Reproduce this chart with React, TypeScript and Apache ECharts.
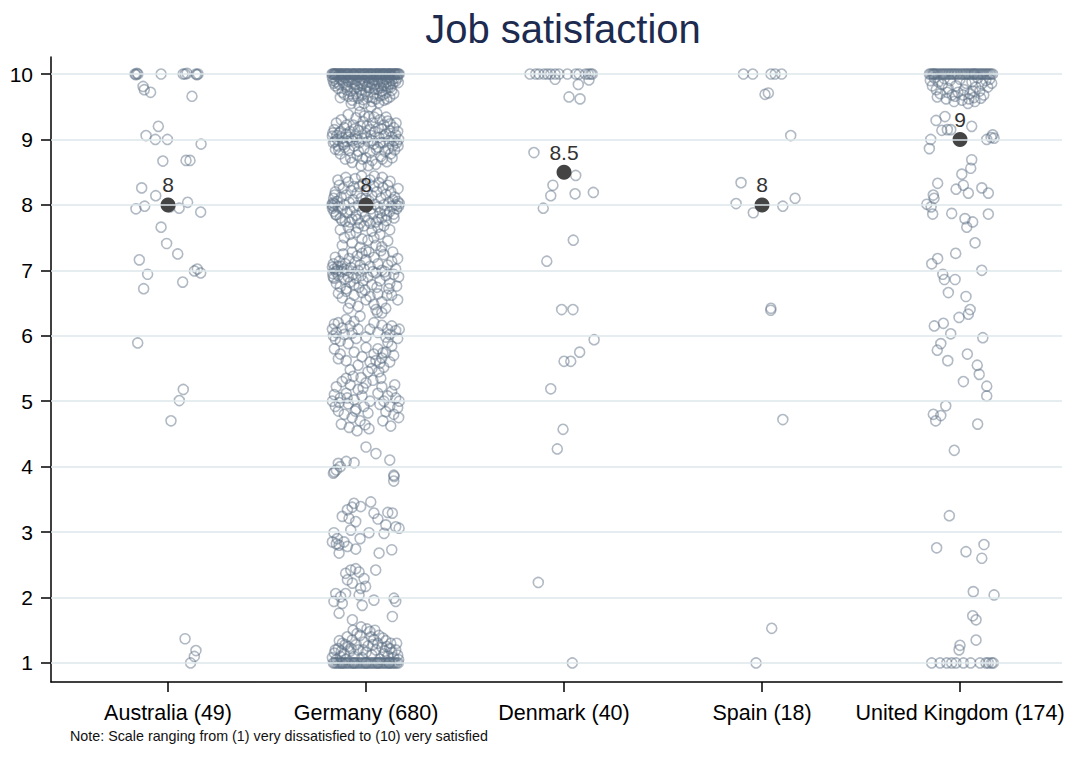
import React, { useEffect, useRef } from "react";
import * as echarts from "echarts";

const categories = ["Australia", "Germany", "Denmark", "Spain", "United Kingdom"];
const counts = [49, 680, 40, 18, 174];
const medians = [8, 8, 8.5, 8, 9];
const yTicks = [1, 2, 3, 4, 5, 6, 7, 8, 9, 10];
const xTicks = [1, 2, 3, 4, 5];
const titleText = "Job satisfaction";
const noteText = "Note: Scale ranging from (1) very dissatisfied to (10) very satisfied";

// points as [horizontal jitter offset from the category, plotted value]
const australiaPts = [
  [-0.167, 10], [-0.162, 9.99], [-0.152, 10], [-0.157, 10.01], [-0.035, 10], [0.076, 10], [0.086, 10], [0.096, 10.01], [0.141, 10], [0.146, 9.99], [0.152, 10],
  [-0.126, 9.81], [-0.12, 9.76], [-0.088, 9.72], [0.121, 9.66],
  [-0.049, 9.2], [-0.111, 9.06], [-0.064, 9.0], [-0.003, 9.0], [0.167, 8.93],
  [-0.026, 8.67], [0.091, 8.68], [0.111, 8.68],
  [-0.133, 8.26], [-0.062, 8.14], [-0.162, 7.94], [-0.118, 7.98], [0.056, 7.95], [0.099, 8.04], [0.165, 7.89], [0.01, 7.97],
  [-0.035, 7.66], [-0.007, 7.41], [0.049, 7.25], [-0.145, 7.16], [-0.103, 6.94], [-0.123, 6.72], [0.074, 6.82], [0.133, 6.99], [0.148, 7.02], [0.165, 6.96],
  [-0.153, 5.89],
  [0.077, 5.18], [0.057, 5.01], [0.015, 4.7],
  [0.086, 1.37], [0.141, 1.19], [0.133, 1.1], [0.114, 1.0],
];

const germanyRow10Dx = [
  -0.172, -0.168, -0.163, -0.16, -0.154, -0.15, -0.147, -0.141, -0.136, -0.133, -0.128, -0.12, -0.117, -0.11, -0.106, -0.1,
  -0.093, -0.09, -0.084, -0.077, -0.071, -0.066, -0.06, -0.055, -0.05, -0.043, -0.038, -0.03, -0.027, -0.02, -0.013, -0.01,
  -0.004, 0.003, 0.008, 0.012, 0.02, 0.026, 0.03, 0.036, 0.041, 0.048, 0.052, 0.057, 0.062, 0.068, 0.071, 0.077, 0.082,
  0.088, 0.092, 0.097, 0.101, 0.106, 0.112, 0.118, 0.121, 0.126, 0.131, 0.137, 0.14, 0.147, 0.151, 0.155, 0.16, 0.164,
  0.168, -0.158, -0.124, -0.096, -0.063, -0.034, -0.006, 0.023, 0.054, 0.085, 0.115, 0.145,
];

const germanyTopBand = [
  [-0.17, 9.95], [-0.166, 9.9], [-0.162, 9.86], [-0.158, 9.93], [-0.15, 9.88], [-0.14, 9.96], [-0.135, 9.84], [-0.125, 9.91],
  [-0.115, 9.87], [-0.105, 9.94], [-0.098, 9.83], [-0.09, 9.89], [-0.08, 9.95], [-0.072, 9.86], [-0.065, 9.92], [-0.055, 9.84],
  [-0.048, 9.9], [-0.04, 9.96], [-0.032, 9.87], [-0.025, 9.93], [-0.015, 9.85], [-0.008, 9.9], [0.0, 9.95], [0.008, 9.83],
  [0.015, 9.88], [0.022, 9.94], [0.03, 9.86], [0.038, 9.91], [0.045, 9.84], [0.052, 9.96], [0.06, 9.89], [0.068, 9.85],
  [0.075, 9.93], [0.083, 9.87], [0.09, 9.83], [0.098, 9.92], [0.105, 9.88], [0.112, 9.95], [0.12, 9.85], [0.128, 9.9],
  [0.135, 9.86], [0.142, 9.93], [0.15, 9.89], [0.158, 9.94], [0.163, 9.87], [-0.155, 9.82], [-0.12, 9.97], [-0.085, 9.92],
  [-0.06, 9.97], [-0.02, 9.82], [0.012, 9.97], [0.04, 9.82], [0.07, 9.97], [0.1, 9.82], [0.13, 9.97],
];

const germanyUpper = [
  [-0.14, 9.78], [-0.12, 9.72], [-0.1, 9.8], [-0.09, 9.66], [-0.08, 9.74], [-0.07, 9.6], [-0.06, 9.78], [-0.05, 9.7],
  [-0.04, 9.63], [-0.03, 9.76], [-0.02, 9.68], [-0.01, 9.55], [0.0, 9.73], [0.01, 9.65], [0.02, 9.79], [0.03, 9.58],
  [0.04, 9.7], [0.05, 9.62], [0.06, 9.77], [0.07, 9.67], [0.08, 9.74], [0.09, 9.6], [0.1, 9.71], [0.11, 9.79], [0.12, 9.65],
  [0.13, 9.75], [-0.13, 9.64], [-0.11, 9.69], [-0.095, 9.76], [-0.075, 9.55], [-0.045, 9.8], [-0.035, 9.52], [-0.015, 9.61],
  [0.005, 9.8], [0.025, 9.5], [0.045, 9.77], [0.065, 9.56], [0.085, 9.68], [0.105, 9.62], [0.125, 9.8], [0.14, 9.7],
  [-0.065, 9.66], [0.035, 9.64], [-0.025, 9.71], [0.075, 9.79],
];

const germanyNine = [
  [-0.17, 9.05], [-0.165, 8.95], [-0.16, 9.15], [-0.155, 8.85], [-0.15, 9.25], [-0.145, 9.0], [-0.14, 8.9], [-0.135, 9.1],
  [-0.13, 8.78], [-0.125, 9.3], [-0.12, 9.02], [-0.115, 8.92], [-0.11, 9.18], [-0.105, 8.7], [-0.1, 9.08], [-0.095, 8.97],
  [-0.09, 9.38], [-0.085, 8.83], [-0.08, 9.12], [-0.075, 9.0], [-0.07, 8.65], [-0.065, 9.22], [-0.06, 8.9], [-0.055, 9.05],
  [-0.05, 9.33], [-0.045, 8.76], [-0.04, 9.14], [-0.035, 8.95], [-0.03, 9.42], [-0.025, 8.6], [-0.02, 9.02], [-0.015, 9.27],
  [-0.01, 8.86], [-0.005, 9.1], [0.0, 8.72], [0.005, 9.2], [0.01, 8.97], [0.015, 9.35], [0.02, 8.8], [0.025, 9.06],
  [0.03, 8.68], [0.035, 9.25], [0.04, 8.93], [0.045, 9.12], [0.05, 8.62], [0.055, 9.4], [0.06, 8.88], [0.065, 9.03],
  [0.07, 9.3], [0.075, 8.74], [0.08, 9.16], [0.085, 8.95], [0.09, 9.22], [0.095, 8.82], [0.1, 9.08], [0.105, 8.66],
  [0.11, 9.28], [0.115, 8.98], [0.12, 9.13], [0.125, 8.78], [0.13, 9.04], [0.135, 8.9], [0.14, 9.18], [0.145, 8.84],
  [0.15, 9.07], [0.155, 8.95], [0.16, 9.12], [0.165, 9.0], [-0.168, 9.1], [-0.158, 8.97], [-0.148, 9.06], [-0.138, 8.84],
  [-0.128, 9.12], [-0.118, 8.96], [-0.108, 8.88], [-0.098, 9.22], [-0.088, 9.03], [-0.078, 8.72], [-0.068, 8.98],
  [-0.058, 9.16], [-0.048, 9.0], [-0.038, 8.82], [-0.028, 9.2], [-0.018, 8.7], [-0.008, 9.36], [0.002, 9.03], [0.012, 8.6],
  [0.022, 9.15], [0.032, 8.98], [0.042, 9.34], [0.052, 8.85], [0.062, 9.18], [0.072, 8.95], [0.082, 8.7], [0.092, 9.05],
  [0.102, 9.34], [0.112, 8.86], [0.122, 9.24], [0.132, 8.72], [0.142, 8.98], [0.152, 9.25], [0.162, 8.9],
];

const germanyEight = [
  [-0.172, 8.0], [-0.17, 7.95], [-0.168, 8.03], [-0.166, 7.98], [-0.164, 8.1], [-0.162, 7.9], [-0.16, 8.02], [-0.155, 8.2],
  [-0.15, 7.85], [-0.145, 8.05], [-0.14, 7.97], [-0.135, 8.3], [-0.13, 7.8], [-0.125, 8.12], [-0.12, 7.93], [-0.115, 8.25],
  [-0.11, 8.0], [-0.105, 7.75], [-0.1, 8.15], [-0.095, 7.88], [-0.09, 8.35], [-0.085, 8.04], [-0.08, 7.92], [-0.075, 8.22],
  [-0.07, 7.78], [-0.065, 8.08], [-0.06, 7.96], [-0.055, 8.4], [-0.05, 7.84], [-0.045, 8.18], [-0.04, 7.99], [-0.035, 8.28],
  [-0.03, 7.72], [-0.025, 8.1], [-0.02, 7.9], [-0.015, 8.32], [-0.01, 8.02], [-0.005, 7.82], [0.005, 8.22], [0.01, 7.76],
  [0.015, 8.06], [0.02, 8.38], [0.025, 7.94], [0.03, 8.14], [0.035, 7.86], [0.04, 8.28], [0.045, 8.01], [0.05, 7.74],
  [0.055, 8.2], [0.06, 7.97], [0.065, 8.34], [0.07, 7.88], [0.075, 8.1], [0.08, 7.8], [0.085, 8.26], [0.09, 8.0],
  [0.095, 7.92], [0.1, 8.16], [0.105, 7.84], [0.11, 8.3], [0.115, 8.04], [0.12, 7.9], [0.125, 8.2], [0.13, 7.98],
  [0.135, 8.08], [0.14, 7.86], [0.145, 8.12], [0.15, 8.0], [0.155, 7.94], [0.16, 8.05], [0.165, 7.98], [0.168, 8.02],
  [-0.158, 8.15], [-0.152, 7.85], [-0.142, 8.38], [-0.122, 7.76], [-0.102, 8.42], [-0.082, 7.74], [-0.062, 8.28],
  [-0.042, 7.78], [-0.022, 8.44], [0.0, 8.1], [0.022, 7.72], [0.042, 8.44], [0.062, 7.78], [0.082, 8.42], [0.102, 7.76],
  [0.122, 8.36], [0.142, 7.8], [0.162, 8.25],
];

const germanySeven = [
  [-0.13, 7.62], [-0.11, 7.5], [-0.09, 7.66], [-0.07, 7.42], [-0.05, 7.58], [-0.03, 7.35], [-0.01, 7.68], [0.01, 7.46],
  [0.03, 7.6], [0.05, 7.38], [0.07, 7.55], [0.09, 7.68], [0.11, 7.45], [-0.12, 7.38], [-0.08, 7.55], [-0.04, 7.65],
  [0.0, 7.3], [0.04, 7.5], [0.08, 7.36], [0.12, 7.62], [-0.02, 7.48], [0.06, 7.66],
  [-0.17, 7.05], [-0.168, 6.95], [-0.165, 7.1], [-0.162, 6.88], [-0.16, 7.02], [-0.155, 7.2], [-0.15, 6.8], [-0.145, 7.0],
  [-0.14, 6.92], [-0.135, 7.14], [-0.13, 6.75], [-0.125, 7.06], [-0.12, 6.98], [-0.115, 7.25], [-0.11, 6.86], [-0.105, 7.1],
  [-0.1, 6.72], [-0.095, 7.0], [-0.09, 6.9], [-0.085, 7.18], [-0.08, 6.82], [-0.075, 7.04], [-0.07, 7.28], [-0.065, 6.94],
  [-0.06, 6.78], [-0.055, 7.12], [-0.05, 6.88], [-0.045, 7.22], [-0.04, 7.0], [-0.035, 6.74], [-0.03, 7.08], [-0.025, 6.92],
  [-0.02, 7.26], [-0.015, 6.84], [-0.01, 7.02], [-0.005, 6.7], [0.0, 7.16], [0.01, 6.9], [0.02, 7.06], [0.03, 6.78],
  [0.04, 7.2], [0.05, 6.96], [0.06, 7.1], [0.07, 6.84], [0.08, 7.0], [0.09, 7.24], [0.1, 6.92], [0.11, 7.08], [0.12, 6.8],
  [0.13, 7.14], [0.14, 6.94], [0.15, 7.02], [0.16, 7.18], [0.165, 6.9], [0.155, 6.76], [0.135, 7.28], [0.115, 6.72],
  [0.095, 6.98], [0.075, 7.3], [0.055, 6.74], [0.035, 6.98], [0.015, 7.28], [-0.112, 7.02], [-0.142, 7.06],
  [-0.152, 6.98], [-0.166, 6.9],
];

const germanySix = [
  [-0.14, 6.65], [-0.12, 6.58], [-0.1, 6.68], [-0.08, 6.5], [-0.06, 6.62], [-0.04, 6.45], [-0.02, 6.66], [0.0, 6.55],
  [0.02, 6.6], [0.04, 6.48], [0.06, 6.64], [0.08, 6.52], [0.1, 6.42], [0.13, 6.62], [0.16, 6.55], [-0.09, 6.42],
  [0.05, 6.4], [0.057, 6.36], [0.08, 6.35], [0.106, 6.62],
  [-0.17, 6.1], [-0.165, 6.0], [-0.16, 6.18], [-0.155, 5.95], [-0.15, 6.05], [-0.14, 6.2], [-0.13, 5.92], [-0.12, 6.12],
  [-0.11, 6.02], [-0.1, 6.25], [-0.09, 5.88], [-0.08, 6.15], [-0.07, 6.04], [-0.06, 6.22], [-0.05, 5.96], [-0.04, 6.1],
  [-0.03, 6.3], [0.0, 5.98], [0.02, 6.1], [0.04, 6.2], [0.06, 6.05], [0.08, 6.16], [0.1, 5.98], [0.11, 6.1], [0.12, 6.02],
  [0.13, 6.15], [0.15, 6.08], [0.16, 5.96], [0.168, 6.1], [-0.16, 5.8], [-0.13, 5.72], [-0.1, 5.62], [-0.06, 5.75],
  [-0.04, 5.55], [-0.02, 5.68], [0.0, 5.82], [0.02, 5.6], [0.03, 5.5], [0.04, 5.72], [0.05, 5.62], [0.06, 5.8],
  [0.07, 5.58], [0.08, 5.66], [0.09, 5.52], [0.1, 5.75], [0.12, 5.6], [0.13, 5.84], [-0.14, 5.65], [-0.08, 5.48],
  [0.01, 5.45], [0.065, 5.45], [0.085, 5.74], [0.11, 5.9], [0.14, 5.7],
];

const germanyFive = [
  [-0.17, 5.0], [-0.16, 5.1], [-0.155, 4.92], [-0.15, 5.22], [-0.14, 4.85], [-0.13, 5.05], [-0.12, 5.3], [-0.11, 4.8],
  [-0.1, 5.12], [-0.09, 4.96], [-0.08, 5.25], [-0.07, 4.75], [-0.06, 5.02], [-0.05, 4.88], [-0.04, 5.18], [-0.03, 4.7],
  [-0.02, 5.08], [-0.01, 4.92], [0.0, 5.28], [0.01, 4.82], [0.02, 5.0], [-0.125, 4.65], [-0.085, 4.6], [-0.045, 4.55],
  [-0.005, 4.64], [0.015, 4.58], [0.06, 5.12], [0.07, 4.95], [0.08, 5.22], [0.09, 5.0], [0.1, 4.84], [0.11, 5.08],
  [0.12, 4.92], [0.13, 5.15], [0.14, 4.8], [0.15, 5.05], [0.16, 4.9], [0.168, 5.0], [0.085, 4.7], [0.125, 4.62],
  [0.165, 4.75], [-0.1, 5.35], [-0.065, 5.38], [-0.025, 5.36], [0.035, 5.32], [0.075, 5.35], [-0.135, 4.98],
  [-0.095, 5.05], [-0.055, 4.85], [-0.015, 5.2], [0.145, 5.25],
];

const germanyFour = [
  [0.0, 4.3], [0.05, 4.2], [0.12, 4.1], [-0.16, 3.92], [-0.14, 4.05], [-0.1, 4.08], [-0.06, 4.06], [0.14, 3.87],
  [-0.15, 3.95], [-0.165, 3.9], [0.142, 3.85], [0.14, 3.78], [-0.13, 4.0],
];

const germanyThree = [
  [-0.061, 3.44], [0.024, 3.46], [-0.094, 3.34], [-0.027, 3.39], [0.04, 3.29], [0.133, 3.29], [-0.12, 3.24], [-0.086, 3.21],
  [-0.052, 3.16], [0.1, 3.11], [0.15, 3.08], [0.167, 3.06], [-0.077, 3.03], [0.015, 2.99], [-0.162, 2.99], [0.091, 2.98],
  [-0.145, 2.9], [-0.17, 2.85], [-0.136, 2.8], [-0.111, 2.85], [-0.094, 2.78], [-0.136, 2.68], [-0.052, 2.74], [0.066, 2.68],
  [0.13, 2.73], [-0.15, 2.82], [0.06, 3.2], [-0.03, 2.9], [0.11, 3.3], [-0.07, 3.38],
];

const germanyTwo = [
  [-0.103, 2.37], [-0.077, 2.42], [-0.052, 2.44], [-0.035, 2.39], [-0.01, 2.29], [0.049, 2.42], [-0.094, 2.27], [-0.069, 2.22],
  [-0.027, 2.14], [-0.002, 2.17], [-0.153, 2.06], [-0.128, 2.01], [-0.12, 1.91], [-0.035, 2.04], [0.04, 1.96], [0.141, 1.99],
  [0.15, 1.94], [-0.136, 1.76], [-0.069, 1.66], [-0.019, 1.88], [0.133, 1.71], [-0.162, 1.94], [-0.103, 2.06],
];

const germanyOne = [
  [-0.17, 1.08], [-0.16, 1.15], [-0.15, 1.05], [-0.14, 1.22], [-0.13, 1.1], [-0.12, 1.3], [-0.11, 1.14], [-0.1, 1.06],
  [-0.09, 1.25], [-0.08, 1.18], [-0.07, 1.35], [-0.06, 1.1], [-0.05, 1.28], [-0.04, 1.2], [-0.03, 1.42], [-0.02, 1.08],
  [-0.01, 1.32], [0.0, 1.16], [0.01, 1.26], [0.02, 1.48], [0.03, 1.12], [0.04, 1.36], [0.05, 1.2], [0.06, 1.3], [0.07, 1.06],
  [0.08, 1.24], [0.09, 1.14], [0.1, 1.34], [0.11, 1.1], [0.12, 1.22], [0.13, 1.16], [0.14, 1.08], [0.15, 1.2], [0.16, 1.12],
  [0.165, 1.05], [-0.155, 1.2], [-0.125, 1.18], [-0.095, 1.4], [-0.065, 1.5], [-0.045, 1.45], [-0.025, 1.55], [0.005, 1.52],
  [0.025, 1.4], [0.045, 1.5], [0.065, 1.42], [0.085, 1.38], [0.105, 1.25], [0.125, 1.3], [-0.135, 1.34], [-0.075, 1.22],
  [-0.015, 1.2], [0.035, 1.28], [0.095, 1.18], [-0.105, 1.28], [0.155, 1.3],
];

const germanyRow1Dx = [
  -0.165, -0.158, -0.149, -0.141, -0.133, -0.126, -0.117, -0.108, -0.1, -0.091, -0.083, -0.072, -0.066, -0.057, -0.048,
  -0.04, -0.031, -0.022, -0.013, -0.005, 0.004, 0.012, 0.021, 0.029, 0.037, 0.046, 0.055, 0.063, 0.071, 0.079, 0.088,
  0.096, 0.104, 0.113, 0.121, 0.13, 0.138, 0.146, 0.155, 0.163, -0.121, -0.06, 0.0, 0.059, 0.117,
];

const denmarkPts = [
  [-0.172, 10], [-0.143, 10], [-0.126, 10], [-0.101, 10], [-0.084, 10], [-0.067, 10], [-0.045, 10], [-0.025, 10],
  [0.017, 10], [0.059, 10], [0.076, 10], [0.109, 10], [0.123, 10], [0.135, 10], [0.143, 10],
  [-0.045, 9.92], [0.072, 9.84], [0.126, 9.91], [0.025, 9.65], [0.081, 9.62],
  [-0.152, 8.8], [0.059, 8.45], [-0.056, 8.3], [-0.067, 8.14], [0.056, 8.17], [0.148, 8.19], [-0.105, 7.95],
  [0.047, 7.46], [-0.087, 7.14],
  [-0.012, 6.4], [0.045, 6.4],
  [0.152, 5.94], [0.079, 5.75], [0.0, 5.61], [0.034, 5.61], [-0.067, 5.19],
  [-0.005, 4.57], [-0.034, 4.27], [-0.13, 2.23], [0.042, 1.0],
];

const spainPts = [
  [-0.094, 10], [-0.047, 10], [0.045, 10], [0.066, 10], [0.099, 10],
  [0.015, 9.69], [0.032, 9.71], [0.145, 9.06],
  [-0.106, 8.34], [-0.131, 8.02], [-0.044, 7.88], [0.105, 7.98], [0.167, 8.1],
  [0.045, 6.42], [0.044, 6.39], [0.105, 4.72], [0.049, 1.53], [-0.03, 1.0],
];

const ukRow10Dx = [
  -0.155, -0.148, -0.14, -0.131, -0.125, -0.118, -0.11, -0.1, -0.093, -0.085, -0.078, -0.07, -0.062, -0.055, -0.046,
  -0.04, -0.031, -0.025, -0.016, -0.01, 0.0, 0.008, 0.015, 0.024, 0.03, 0.038, 0.045, 0.053, 0.06, 0.068, 0.076, 0.083,
  0.09, 0.099, 0.106, 0.113, 0.12, 0.128, 0.135, 0.142, 0.15, 0.157, 0.165, -0.135, 0.071,
];

const ukPts = [
  [-0.15, 9.9], [-0.14, 9.82], [-0.13, 9.94], [-0.12, 9.76], [-0.11, 9.88], [-0.1, 9.7], [-0.09, 9.84], [-0.08, 9.93],
  [-0.07, 9.62], [-0.06, 9.78], [-0.05, 9.9], [-0.04, 9.68], [-0.03, 9.58], [-0.02, 9.82], [-0.01, 9.72], [0.0, 9.92],
  [0.01, 9.6], [0.02, 9.76], [0.03, 9.86], [0.04, 9.55], [0.05, 9.7], [0.06, 9.88], [0.07, 9.64], [0.08, 9.8], [0.09, 9.94],
  [0.1, 9.74], [0.11, 9.85], [0.12, 9.68], [0.13, 9.9], [0.14, 9.8], [0.15, 9.92], [0.16, 9.86], [-0.115, 9.65],
  [-0.065, 9.72], [-0.025, 9.66], [0.015, 9.68], [0.045, 9.62], [0.075, 9.58], [0.105, 9.63], [0.065, 9.74],
  [-0.121, 9.29], [-0.076, 9.35], [-0.092, 9.14], [-0.064, 9.15], [-0.047, 9.15], [0.059, 9.2], [-0.148, 9.0], [-0.155, 8.86],
  [0.135, 9.0], [0.157, 9.03], [0.172, 9.02], [0.165, 9.07],
  [0.059, 8.69], [0.054, 8.56], [0.009, 8.47], [0.017, 8.3], [-0.02, 8.24], [0.042, 8.18], [-0.113, 8.33], [-0.135, 8.15],
  [-0.131, 8.1], [0.11, 8.26], [0.143, 8.18], [-0.168, 8.01], [-0.146, 7.97], [-0.138, 7.86], [-0.042, 7.87], [0.025, 7.79],
  [0.064, 7.74], [0.034, 7.66], [0.143, 7.86], [0.076, 7.42], [-0.022, 7.26], [-0.113, 7.18], [-0.143, 7.1], [0.11, 7.0],
  [-0.087, 6.94], [-0.079, 6.86], [-0.025, 6.86],
  [-0.059, 6.66], [0.03, 6.6], [0.051, 6.4], [0.042, 6.33], [-0.005, 6.28], [-0.13, 6.15], [-0.084, 6.19], [-0.047, 6.03],
  [0.115, 5.97], [-0.097, 5.88], [-0.115, 5.78], [0.037, 5.72], [-0.062, 5.62], [0.087, 5.55], [0.097, 5.41], [0.017, 5.3],
  [0.135, 5.23], [0.135, 5.08],
  [-0.072, 4.93], [-0.135, 4.8], [-0.097, 4.78], [-0.123, 4.7], [0.089, 4.65], [-0.029, 4.25],
  [-0.054, 3.25], [-0.118, 2.76], [0.03, 2.7], [0.121, 2.81], [0.11, 2.6], [0.067, 2.09], [0.172, 2.04], [0.064, 1.72],
  [0.081, 1.66], [0.081, 1.35], [0.0, 1.27], [-0.005, 1.2],
];

const ukRow1Dx = [-0.143, -0.101, -0.067, -0.042, -0.02, 0.017, 0.054, 0.101, 0.131, 0.143, 0.16, 0.168];

const germanyPts = [
  ...germanyRow10Dx.map((dx) => [dx, 10]),
  ...germanyTopBand,
  ...germanyUpper,
  ...germanyNine,
  ...germanyEight,
  ...germanySeven,
  ...germanySix,
  ...germanyFive,
  ...germanyFour,
  ...germanyThree,
  ...germanyTwo,
  ...germanyOne,
  ...germanyRow1Dx.map((dx) => [dx, 1]),
];

const ukAll = [...ukRow10Dx.map((dx) => [dx, 10]), ...ukPts, ...ukRow1Dx.map((dx) => [dx, 1])];

const groups = [australiaPts, germanyPts, denmarkPts, spainPts, ukAll];

export default function App() {
  const ref = useRef<HTMLDivElement>(null);
  useEffect(() => {
    if (!ref.current) return;
    const chart = echarts.init(ref.current, null, { renderer: "svg" });
    const pts = groups.flatMap((g, i) => g.map(([dx, y]) => [i + 1 + dx, y]));
    const font = "'Liberation Sans', Arial, sans-serif";
    chart.setOption({
      animation: false,
      backgroundColor: "#ffffff",
      textStyle: { fontFamily: font },
      grid: { left: 51, right: 11, top: 57, bottom: 83, containLabel: false },
      xAxis: {
        type: "value",
        min: 0.409,
        max: 5.515,
        axisLine: { show: true, onZero: false, lineStyle: { color: "#000", width: 1.5 } },
        axisTick: { show: true, customValues: xTicks, length: 10, lineStyle: { color: "#000", width: 1.5 } },
        axisLabel: {
          customValues: xTicks,
          margin: 20,
          fontSize: 21.5,
          color: "#000",
          fontFamily: font,
          formatter: (v: number) => `${categories[Math.round(v) - 1]} (${counts[Math.round(v) - 1]})`,
        },
        splitLine: { show: false },
      },
      yAxis: {
        type: "value",
        min: 0.709,
        max: 10.26,
        axisLine: { show: true, lineStyle: { color: "#000", width: 1.5 } },
        axisTick: { show: true, customValues: yTicks, length: 10, lineStyle: { color: "#000", width: 1.5 } },
        axisLabel: { customValues: yTicks, margin: 18, fontSize: 21, color: "#000", fontFamily: font },
        splitLine: { show: false },
      },
      graphic: [
        {
          type: "text",
          x: 563,
          y: 9,
          style: { text: titleText, font: `40px ${font}`, fill: "#1c2b4f", textAlign: "center", textVerticalAlign: "top" },
        },
        {
          type: "text",
          x: 70,
          y: 736,
          style: { text: noteText, font: `14.3px ${font}`, fill: "#111", textAlign: "left", textVerticalAlign: "middle" },
        },
      ],
      series: [
        {
          type: "scatter",
          z: 1,
          data: [],
          silent: true,
          markLine: {
            silent: true,
            symbol: ["none", "none"],
            label: { show: false },
            lineStyle: { color: "#dce7eb", width: 1.5, type: "solid" },
            data: yTicks.map((v) => ({ yAxis: v })),
          },
        },
        {
          type: "scatter",
          z: 2,
          symbol: "circle",
          symbolSize: 10,
          data: pts,
          itemStyle: { color: "rgba(0,0,0,0)", borderColor: "rgba(92,110,132,0.6)", borderWidth: 1.6 },
        },
        {
          type: "scatter",
          z: 3,
          symbol: "circle",
          symbolSize: 15,
          data: medians.map((m, i) => [i + 1, m]),
          itemStyle: { color: "#444444", opacity: 1 },
          label: {
            show: true,
            position: "top",
            distance: 2,
            fontSize: 21,
            color: "#333",
            fontFamily: font,
            formatter: (p: any) => String(p.value[1]),
          },
        },
      ],
    });
    return () => chart.dispose();
  }, []);
  return (
    <div
      ref={ref}
      style={{ position: "fixed", left: 0, top: 0, width: 1073, height: 765, background: "#fff" }}
    />
  );
}
